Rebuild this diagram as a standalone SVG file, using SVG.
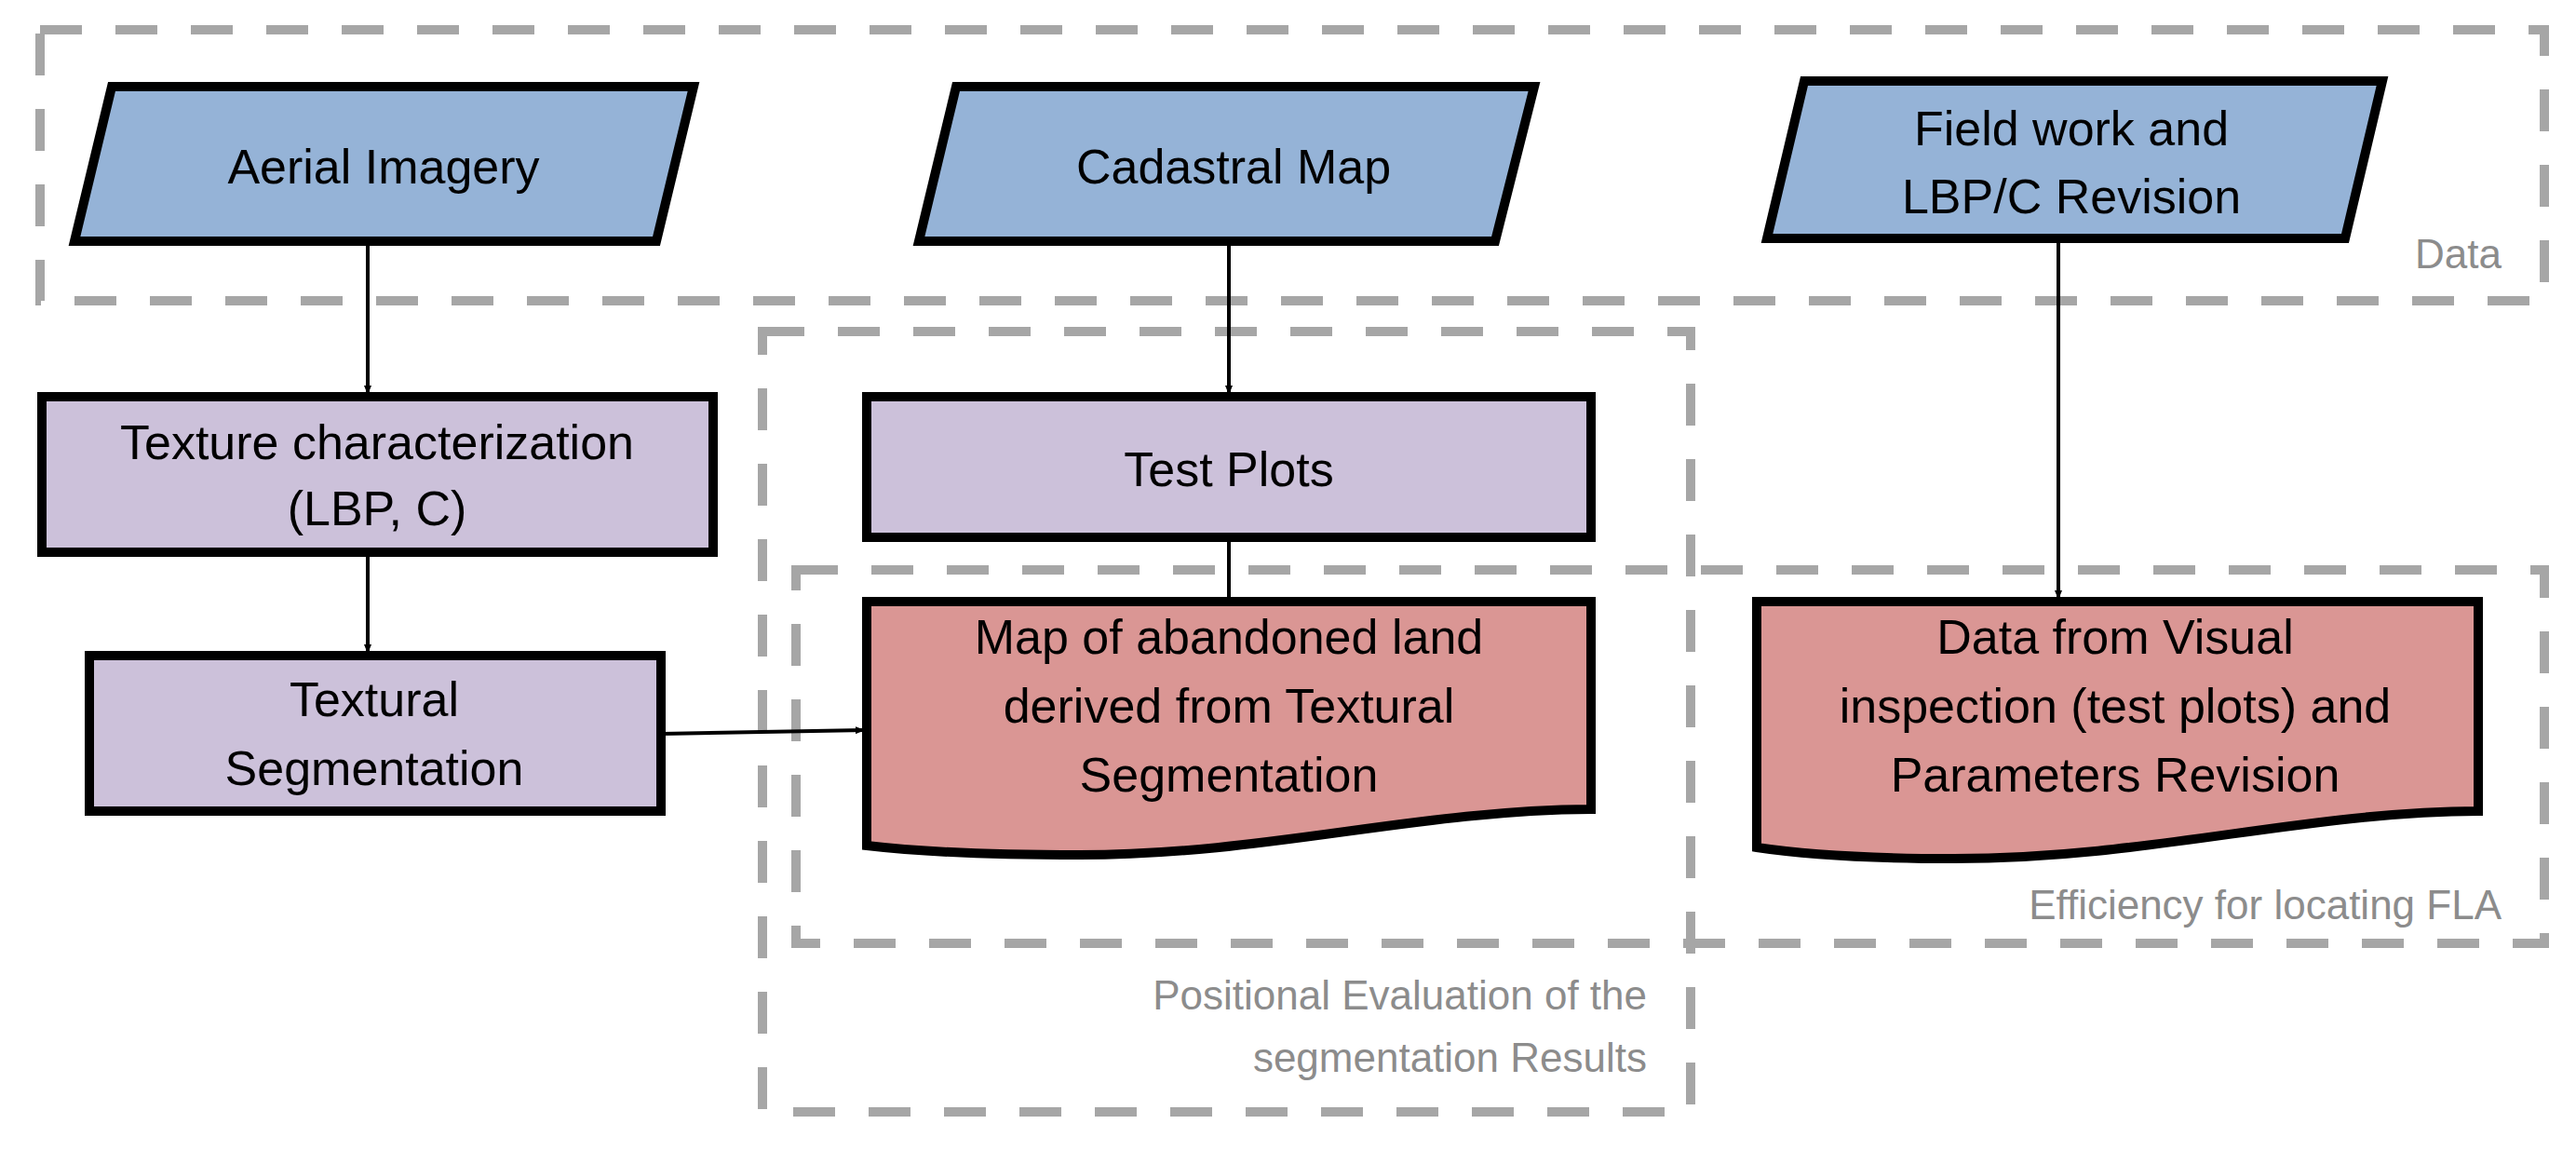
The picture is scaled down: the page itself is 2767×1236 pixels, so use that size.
<svg xmlns="http://www.w3.org/2000/svg" width="2767" height="1236" viewBox="0 0 2767 1236">
<defs>
<marker id="ah" markerWidth="10" markerHeight="8" refX="10" refY="4" orient="auto" markerUnits="userSpaceOnUse" viewBox="0 0 10 8"><path d="M0,0 L10,4 L0,8 Z" fill="#000"/></marker>
<style>
.grp{fill:none;stroke:#a6a6a6;stroke-width:10;stroke-dasharray:45 36}
.node{stroke:#000;stroke-width:10;stroke-linejoin:miter}
.blue{fill:#95b3d7}.lav{fill:#ccc1da}.pink{fill:#da9694}
.t{font-family:"Liberation Sans",Arial,sans-serif;font-size:52px;fill:#000;text-anchor:middle}
.g{font-family:"Liberation Sans",Arial,sans-serif;font-size:44px;fill:#8c8c8c;text-anchor:end}
.c{fill:none;stroke:#000;stroke-width:4}
</style>
</defs>
<g id="groups">
<rect class="grp" x="43" y="32" width="2690" height="291"/>
<rect class="grp" x="819" y="356" width="997" height="838"/>
<rect class="grp" x="855" y="612" width="1878" height="401"/>
<text class="g" x="2687" y="288">Data</text>
<text class="g" x="2687" y="987">Efficiency for locating FLA</text>
<text class="g" x="1769" y="1084">Positional Evaluation of the</text>
<text class="g" x="1769" y="1151">segmentation Results</text>
</g>
<g id="connectors">
<line class="c" x1="395" y1="259" x2="395" y2="424" marker-end="url(#ah)"/>
<line class="c" x1="395" y1="593" x2="395" y2="702" marker-end="url(#ah)"/>
<line class="c" x1="710" y1="788" x2="929" y2="784" marker-end="url(#ah)"/>
<line class="c" x1="1320" y1="259" x2="1320" y2="424" marker-end="url(#ah)"/>
<line class="c" x1="1320" y1="577" x2="1320" y2="646"/>
<line class="c" x1="2211" y1="256" x2="2211" y2="644" marker-end="url(#ah)"/>
</g>
<g id="aerial"><polygon class="node blue" points="120,93 745,93 705,259 80,259"/><text class="t" x="412" y="197">Aerial Imagery</text></g>
<g id="cadastral"><polygon class="node blue" points="1027,93 1648,93 1606,259 987,259"/><text class="t" x="1325" y="197">Cadastral Map</text></g>
<g id="field"><polygon class="node blue" points="1938,87 2559,87 2519,256 1898,256"/><text class="t" x="2225" y="156">Field work and</text><text class="t" x="2225" y="229">LBP/C Revision</text></g>
<g id="texture"><rect class="node lav" x="45" y="426" width="721" height="167"/><text class="t" x="405" y="493">Texture characterization</text><text class="t" x="405" y="564">(LBP, C)</text></g>
<g id="textural"><rect class="node lav" x="96" y="704" width="614" height="167"/><text class="t" x="402" y="769">Textural</text><text class="t" x="402" y="843">Segmentation</text></g>
<g id="testplots"><rect class="node lav" x="931" y="426" width="778" height="151"/><text class="t" x="1320" y="522">Test Plots</text></g>
<g id="map"><path class="node pink" d="M931,646 H1709 V869 C1520,870 1360,918 1160,918 C1060,918 990,915 931,908 Z"/><text class="t" x="1320" y="702">Map of abandoned land</text><text class="t" x="1320" y="776">derived from Textural</text><text class="t" x="1320" y="850">Segmentation</text></g>
<g id="datavis"><path class="node pink" d="M1887,646 H2662 V871 C2470,872 2310,922 2099,922 C2000,922 1940,918 1887,910 Z"/><text class="t" x="2272" y="702">Data from Visual</text><text class="t" x="2272" y="776">inspection (test plots) and</text><text class="t" x="2272" y="850">Parameters Revision</text></g>
</svg>
